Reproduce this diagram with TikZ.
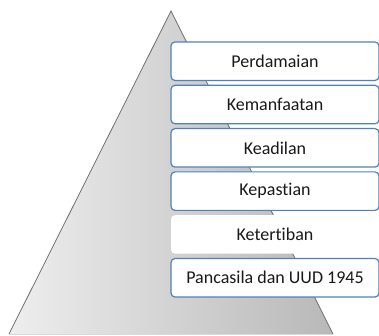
\documentclass[tikz,border=0pt]{standalone}
\usepackage{fontspec}
\setmainfont{Carlito}[Ligatures={NoCommon,NoContextual}]
\definecolor{boxblue}{RGB}{79,129,189}
\definecolor{triL}{RGB}{238,238,238}
\definecolor{triR}{RGB}{184,184,184}
\definecolor{triEdge}{RGB}{112,112,112}
\tikzset{
  level/.style={draw=boxblue, line width=1.2pt, fill=white, rounded corners=4pt,
    minimum width=208pt, minimum height=38.5pt, inner sep=0pt,
    font=\fontsize{18}{21}\selectfont, text=black!90},
  plainlevel/.style={level, draw=none},
}
\begin{document}
\begin{tikzpicture}[x=1pt,y=1pt]
\useasboundingbox (0,0) rectangle (379,336);
% pyramid
\shade[left color=triL, right color=triR] (9,2) -- (171,325) -- (333,2) -- cycle;
\draw[triEdge, line width=0.8pt] (9,2) -- (171,325) -- (333,2);
\draw[gray!30, line width=0.6pt] (9,2) -- (333,2);
% levels (top y = 336 - 42 - 43.3 i)
\node[level] (l1) at (275,274.75) {Perdamaian};
\node[level] (l2) at (275,231.45) {Kemanfaatan};
\node[level] (l3) at (275,188.15) {Keadilan};
\node[level] (l4) at (275,144.85) {Kepastian};
\node[plainlevel] (l5) at (275,101.55) {Ketertiban};
\node[level] (l6) at (275,58.25) {Pancasila dan UUD 1945};
\end{tikzpicture}
\end{document}
